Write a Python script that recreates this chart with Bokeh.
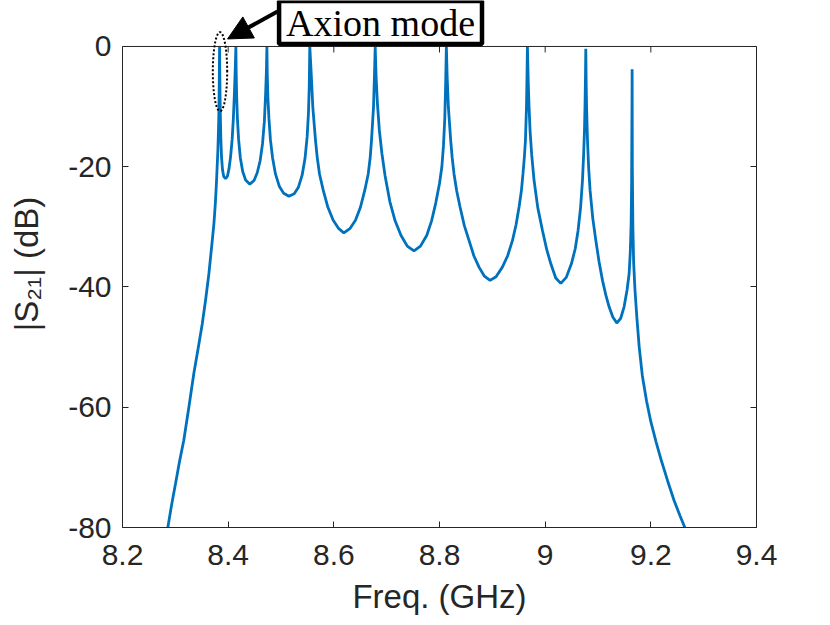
import numpy as np
from bokeh.plotting import figure
from bokeh.models import (Label, Arrow, NormalHead, PolyAnnotation, FixedTicker,
                          LinearAxis, Range1d, Span)
from bokeh.embed import file_html
from bokeh.resources import INLINE

# ---- data ----
freq_ghz = [
    # low-frequency skirt up to the axion mode
    8.2858, 8.2930, 8.3004, 8.3080, 8.3160, 8.3256, 8.3350, 8.3430, 8.3510, 8.3572,
    8.3635, 8.3686, 8.3710, 8.3730, 8.3758, 8.3780, 8.3805, 8.3818, 8.3825, 8.3832,
    8.3837,
    # mode 1 -> mode 2
    8.3841, 8.3846, 8.3853, 8.3862, 8.3875, 8.3893, 8.3915, 8.3950, 8.3985, 8.4015,
    8.4045, 8.4075, 8.4098, 8.4117, 8.4133, 8.4146,
    # mode 2 -> mode 3
    8.4151, 8.4160, 8.4175, 8.4198, 8.4230, 8.4275, 8.4330, 8.4410, 8.4490, 8.4550,
    8.4605, 8.4650, 8.4685, 8.4708, 8.4724, 8.4733,
    # mode 3 -> mode 4
    8.4740, 8.4752, 8.4772, 8.4800, 8.4840, 8.4895, 8.4970, 8.5050, 8.5150, 8.5250,
    8.5330, 8.5400, 8.5455, 8.5495, 8.5520, 8.5535, 8.5545,
    # mode 4 -> mode 5
    8.5572, 8.5602, 8.5653, 8.5685, 8.5729, 8.5799, 8.5886, 8.5988, 8.6094, 8.6189,
    8.6303, 8.6410, 8.6505, 8.6586, 8.6651, 8.6689, 8.6713, 8.6751, 8.6770, 8.6783,
    # mode 5 -> mode 6
    8.6800, 8.6825, 8.6862, 8.6910, 8.6968, 8.7060, 8.7160, 8.7270, 8.7390, 8.7517,
    8.7640, 8.7760, 8.7850, 8.7930, 8.8000, 8.8045, 8.8075, 8.8100, 8.8117, 8.8130,
    # mode 6 -> mode 7
    8.8145, 8.8168, 8.8212, 8.8240, 8.8275, 8.8325, 8.8389, 8.8470, 8.8560, 8.8650,
    8.8748, 8.8850, 8.8957, 8.9070, 8.9190, 8.9290, 8.9380, 8.9450, 8.9506, 8.9550,
    8.9580, 8.9607, 8.9627, 8.9646, 8.9656, 8.9664,
    # mode 7 -> mode 8
    8.9680, 8.9695, 8.9714, 8.9745, 8.9790, 8.9860, 8.9949, 9.0030, 9.0106, 9.0200,
    9.0295, 9.0400, 9.0498, 9.0570, 9.0623, 9.0670, 9.0706, 9.0728, 9.0744, 9.0755,
    9.0763, 9.0769,
    # mode 8 -> mode 9
    9.0776, 9.0785, 9.0801, 9.0822, 9.0850, 9.0900, 9.0958, 9.1020, 9.1085, 9.1150,
    9.1210, 9.1280, 9.1356, 9.1430, 9.1494, 9.1550, 9.1589, 9.1612, 9.1627, 9.1636,
    9.1640, 9.1644, 9.1646,
    # high-frequency skirt
    9.1650, 9.1660, 9.1675, 9.1700, 9.1735, 9.1780, 9.1840, 9.1920, 9.2000, 9.2100,
    9.2200, 9.2320, 9.2440, 9.2550, 9.2644,
]
s21_db = [
    -80.0, -76.2, -72.7, -69.0, -65.5, -60.0, -54.4, -50.3, -46.1, -42.2,
    -37.8, -33.4, -31.3, -29.5, -26.0, -22.3, -17.3, -13.5, -10.6, -5.5,
    0.0,
    -4.0, -8.0, -12.0, -15.5, -18.5, -20.5, -21.6, -22.0, -21.6, -20.4,
    -18.4, -15.5, -12.0, -8.0, -4.0, 0.0,
    -4.0, -8.0, -12.0, -15.5, -18.5, -20.8, -22.2, -22.9, -22.3, -21.0,
    -19.0, -16.2, -12.5, -8.0, -4.0, 0.0,
    -4.5, -8.5, -12.0, -15.5, -18.5, -21.2, -23.3, -24.4, -24.9, -24.5,
    -23.4, -21.4, -18.6, -15.0, -11.0, -6.5, 0.0,
    -4.5, -10.1, -15.6, -18.4, -21.2, -23.9, -26.7, -28.9, -30.3, -31.0,
    -30.3, -28.9, -26.7, -23.9, -21.2, -18.4, -15.6, -10.1, -4.5, 0.0,
    -5.0, -9.5, -14.0, -17.8, -21.4, -25.8, -29.0, -31.4, -33.2, -34.0,
    -33.2, -31.4, -29.0, -26.0, -22.8, -20.0, -16.5, -12.0, -6.0, 0.0,
    -5.0, -10.1, -15.6, -18.5, -21.2, -24.0, -26.7, -29.8, -32.3, -34.8,
    -36.7, -38.2, -38.9, -38.3, -36.7, -34.8, -32.3, -29.6, -26.7, -24.0,
    -21.2, -18.3, -15.6, -10.1, -5.0, 0.0,
    -6.0, -10.0, -14.0, -18.0, -22.3, -26.8, -30.6, -33.8, -36.1, -38.5,
    -39.4, -38.4, -36.1, -33.6, -30.6, -26.8, -22.3, -18.0, -14.0, -9.5,
    -5.0, -0.4,
    -6.0, -10.5, -15.6, -20.0, -23.9, -28.5, -32.2, -35.8, -38.9, -41.4,
    -43.3, -45.0, -46.0, -45.2, -43.3, -40.5, -37.8, -34.0, -29.5, -23.0,
    -15.6, -9.0, -3.8,
    -20.0, -30.0, -36.0, -40.5, -45.0, -50.0, -54.8, -59.0, -62.4, -65.8,
    -68.9, -72.3, -75.5, -78.0, -80.0,
]
x_ticks = [8.2, 8.4, 8.6, 8.8, 9.0, 9.2, 9.4]
x_tick_labels = ["8.2", "8.4", "8.6", "8.8", "9", "9.2", "9.4"]
y_ticks = [-80, -60, -40, -20, 0]
y_tick_labels = ["-80", "-60", "-40", "-20", "0"]
y_data_min, y_data_max = -80, 0

annot_text = "Axion mode"
ellipse_center = (8.38455, -4.19)
ellipse_half = (0.0136, 6.57)
label_pos = (8.6884, 4.0)
arrow_start = (8.4934, 5.8)
arrow_end = (8.3988, 1.25)

AX = "#262626"
LINE = "#0072BD"

# frame extended above 0 dB so that the annotation (box, arrow, ellipse)
# can sit above the plot box without being clipped
p = figure(width=822, height=617, output_backend="svg", toolbar_location=None,
           x_range=Range1d(8.2, 9.4), y_range=Range1d(-80, 7.646),
           min_border_left=122, min_border_right=66, min_border_top=0,
           min_border_bottom=90, x_axis_label="Freq. (GHz)",
           y_axis_label="|S₂₁| (dB)")
p.outline_line_color = None
p.xgrid.visible = False
p.ygrid.visible = False
p.background_fill_color = "white"
p.border_fill_color = "white"

def style(ax, ticks, labels, show):
    ax.ticker = FixedTicker(ticks=ticks, minor_ticks=[])
    ax.major_label_overrides = {t: (l if show else "") for t, l in zip(ticks, labels)}
    ax.axis_line_color = AX
    ax.axis_line_width = 1
    ax.major_tick_line_color = AX
    ax.major_tick_in = 6
    ax.major_tick_out = 0
    ax.minor_tick_line_color = None
    ax.major_label_text_font = "Liberation Sans"
    ax.major_label_text_font_size = "30px" if show else "0px"
    ax.major_label_text_color = AX
    ax.axis_label_text_font = "Liberation Sans"
    ax.axis_label_text_font_size = "33px"
    ax.axis_label_text_font_style = "normal"
    ax.axis_label_text_color = AX

style(p.xaxis[0], x_ticks, x_tick_labels, True)
style(p.yaxis[0], y_ticks, y_tick_labels, True)
p.yaxis[0].bounds = (y_data_min, y_data_max)
p.xaxis[0].major_label_standoff = 17
p.xaxis[0].axis_label_standoff = 10
p.yaxis[0].major_label_standoff = 11
p.yaxis[0].axis_label_standoff = 20

right = LinearAxis(bounds=(y_data_min, y_data_max))
style(right, y_ticks, y_tick_labels, False)
p.add_layout(right, "right")

# top edge of the axes box with inward ticks
p.add_layout(Span(location=y_data_max, dimension="width", line_color=AX, line_width=1))
p.ray(x=x_ticks, y=[y_data_max] * len(x_ticks), length=6, length_units="screen",
      angle=-np.pi / 2, line_color=AX, line_width=1)

p.line(freq_ghz, s21_db, line_color=LINE, line_width=2.8)

# dotted ellipse around the axion mode
t = np.linspace(0, 2 * np.pi, 80)
ex = list(ellipse_center[0] + ellipse_half[0] * np.cos(t))
ey = list(ellipse_center[1] + ellipse_half[1] * np.sin(t))
p.add_layout(PolyAnnotation(xs=ex, ys=ey, fill_alpha=0, line_color="black",
                            line_alpha=1.0, line_width=2, line_dash="2 2"))

p.add_layout(Arrow(end=NormalHead(size=24, fill_color="black", line_color="black"),
                   x_start=arrow_start[0], y_start=arrow_start[1],
                   x_end=arrow_end[0], y_end=arrow_end[1],
                   line_color="black", line_width=4))

p.add_layout(Label(x=label_pos[0], y=label_pos[1], text=annot_text,
                   text_font="Liberation Serif", text_font_size="38px",
                   text_color="black", text_align="center", text_baseline="middle",
                   background_fill_color="white", border_line_color="black",
                   border_line_width=4.5,
                   padding=dict(left=7, right=7, top=1, bottom=0)))

open("out.html", "w").write(file_html(p, INLINE))
